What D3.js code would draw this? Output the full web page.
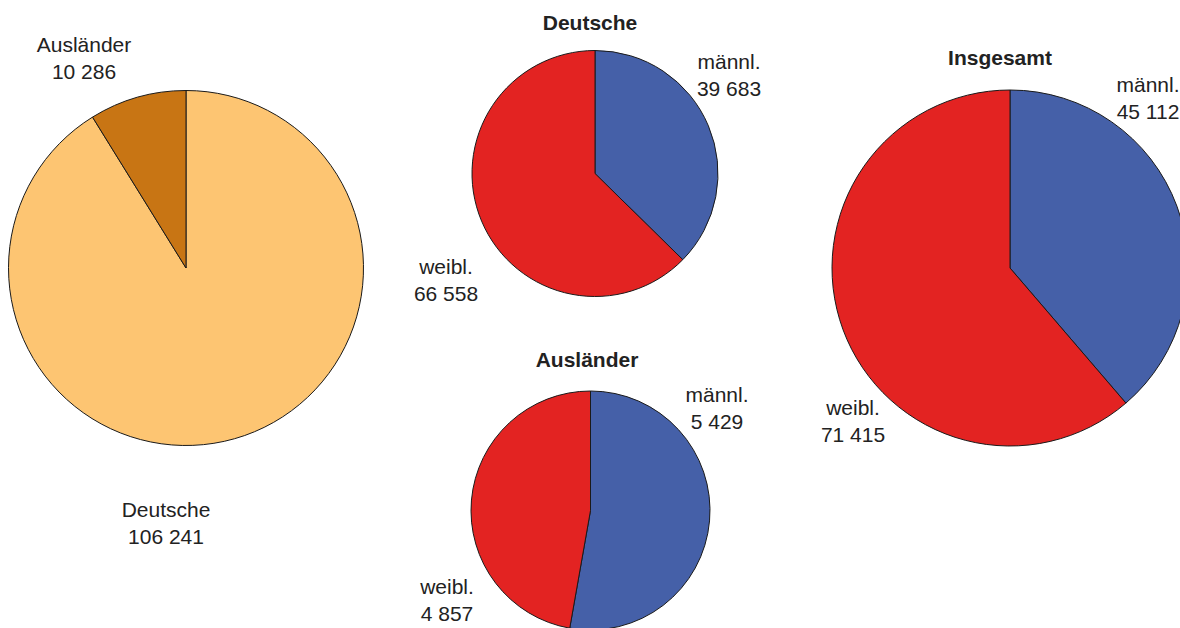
<!DOCTYPE html>
<html>
<head>
<meta charset="utf-8">
<script src="https://cdn.jsdelivr.net/npm/d3@7"></script>
<style>
  html, body { margin: 0; padding: 0; background: #fff; }
  svg { display: block; }
  text { font-family: "Liberation Sans", Arial, sans-serif; fill: #222; }
</style>
</head>
<body>
<svg id="chart" width="1180" height="628"></svg>
<script>
// Population by origin and sex
const originCategories = ["Deutsche", "Ausländer"];
const originValues = [106241, 10286];

const sexCategories = ["männl.", "weibl."];
const deutscheValues = [39683, 66558];
const auslaenderValues = [5429, 4857];
const insgesamtValues = [45112, 71415];

const fmt = v => d3.format(",")(v).replace(/,/g, " ");

const svg = d3.select("#chart");

// Layout of each pie: centre, radius, title and label anchors
const pies = [
  {
    cats: originCategories, vals: originValues, cx: 186, cy: 268, r: 177.5,
    colors: ["#FDC572", "#C87514"], title: null,
    labels: [[166, 509], [84, 44]]
  },
  {
    cats: sexCategories, vals: deutscheValues, cx: 595, cy: 173.5, r: 123,
    colors: ["#4560A8", "#E32322"], title: ["Deutsche", 590, 22],
    labels: [[729, 61], [446, 266]]
  },
  {
    cats: sexCategories, vals: auslaenderValues, cx: 590.5, cy: 510.5, r: 119.5,
    colors: ["#4560A8", "#E32322"], title: ["Ausländer", 587, 359],
    labels: [[717, 394], [447, 586]]
  },
  {
    cats: sexCategories, vals: insgesamtValues, cx: 1010, cy: 268, r: 178,
    colors: ["#4560A8", "#E32322"], title: ["Insgesamt", 1000, 57],
    labels: [[1148, 84], [853, 407]]
  }
];

const pieGen = d3.pie().sort(null).value(d => d);

pies.forEach(p => {
  const arc = d3.arc().innerRadius(0).outerRadius(p.r);
  const g = svg.append("g").attr("transform", `translate(${p.cx},${p.cy})`);
  g.selectAll("path")
    .data(pieGen(p.vals))
    .join("path")
    .attr("d", arc)
    .attr("fill", (d, i) => p.colors[i])
    .attr("stroke", "#1a1a1a")
    .attr("stroke-width", 1)
    .attr("stroke-linejoin", "round");

  if (p.title) {
    svg.append("text")
      .attr("x", p.title[1]).attr("y", p.title[2])
      .attr("text-anchor", "middle").attr("dominant-baseline", "central")
      .attr("font-size", 21).attr("font-weight", "bold")
      .text(p.title[0]);
  }

  p.cats.forEach((c, i) => {
    const [lx, ly] = p.labels[i];
    const t = svg.append("text")
      .attr("text-anchor", "middle")
      .attr("font-size", 21);
    t.append("tspan").attr("x", lx).attr("y", ly).attr("dominant-baseline", "central").text(c);
    t.append("tspan").attr("x", lx).attr("y", ly + 27.5).attr("dominant-baseline", "central").text(fmt(p.vals[i]));
  });
});
</script>
</body>
</html>
